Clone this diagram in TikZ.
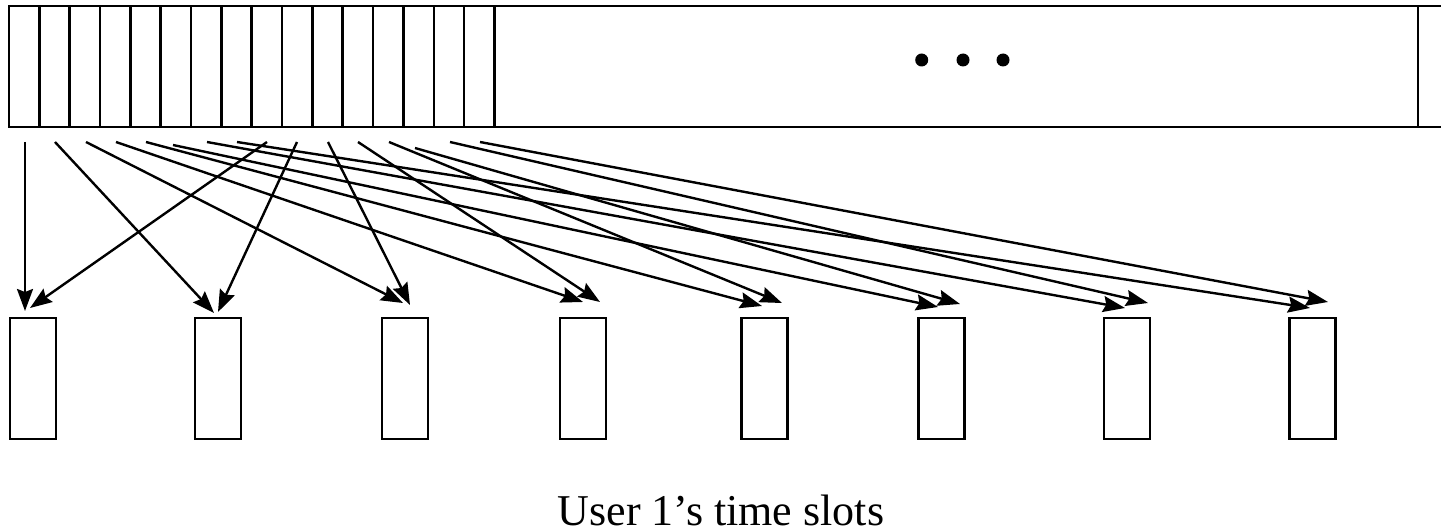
\documentclass[tikz,border=0pt]{standalone}
\usepackage{fontspec}
\setmainfont{Liberation Serif}
\usetikzlibrary{arrows.meta}
\begin{document}
\begin{tikzpicture}[x=1pt, y=-1pt, line width=2.5pt,
  cell/.style={draw, rectangle, inner sep=0pt, outer sep=0pt, minimum height=121pt},
  userslot/.style={draw, rectangle, inner sep=0pt, outer sep=0pt, minimum width=46pt, minimum height=121pt},
  link/.style={-{Stealth[length=22pt, width=16pt, inset=3pt]}, line width=2.4pt},
  dotmark/.style={circle, fill, inner sep=0pt, minimum size=13pt}]
\useasboundingbox (0,0) rectangle (1441,532);

% frame: sixteen narrow slots followed by the rest of the frame
\foreach \i in {1,...,16}
  \node[cell, minimum width=30.34pt] (s\i) at ({9+(\i-0.5)*30.34}, 66.5) {};
\node[cell, minimum width=923.6pt] (rest) at ({(494.4+1418)/2}, 66.5) {};
\coordinate (edgeT) at (1441, 6);
\coordinate (edgeB) at (1441, 127);
\draw (rest.north east) -- (edgeT);
\draw (rest.south east) -- (edgeB);

% ellipsis
\node[dotmark] (d1) at (921.7, 60) {};
\node[dotmark] (d2) at (963, 60) {};
\node[dotmark] (d3) at (1003, 60) {};

% user 1's slots
\foreach \j/\cx in {1/33, 2/218, 3/405, 4/583, 5/764.5, 6/941.5, 7/1127, 8/1312.5}
  \node[userslot] (b\j) at (\cx, 378.5) {};

% arrow start points below the frame slots
\foreach \k/\x/\y in {1/25/142, 2/55/142, 3/86/142, 4/116/142, 5/146/142, 6/173/145,
    7/207/142, 8/237/142, 9/267/142, 10/297/142, 11/328/142, 12/358/142,
    13/389/142, 14/415/148, 15/450/142, 16/480/142}
  \coordinate (a\k) at (\x, \y);

% arrow tips above user 1's slots
\foreach \k/\x/\y in {1/25/311, 9/30/308, 2/214/313, 10/218/312,
    3/403/303, 11/410/305, 4/583/302, 12/600/302,
    5/762/306, 13/782/303, 6/938/307, 14/960/304,
    7/1125/308, 15/1148/303, 8/1310/308, 16/1328/302}
  \coordinate (t\k) at (\x, \y);

\foreach \k in {1,...,16}
  \draw[link] (a\k) -- (t\k);

\node[anchor=base, inner sep=0pt, font=\fontsize{44}{50}\selectfont] (caption) at (721, 525) {User 1’s time slots};
\end{tikzpicture}
\end{document}
